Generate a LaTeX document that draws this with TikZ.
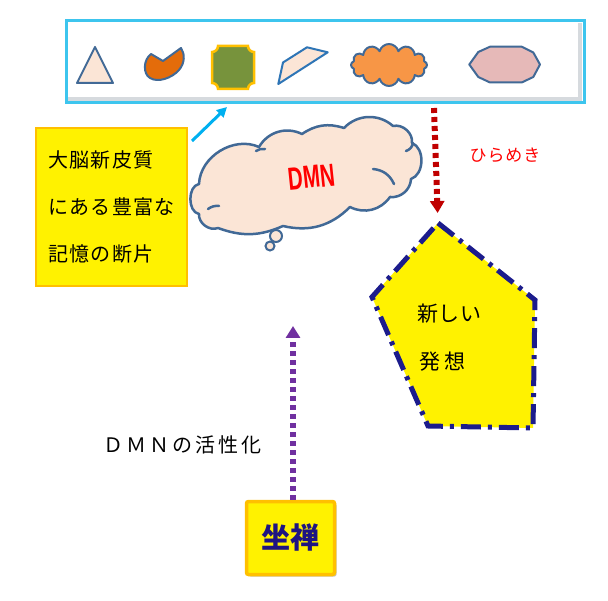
\documentclass[tikz,border=0pt]{standalone}
\usepackage{fontspec}
\usepackage{graphicx}
\usetikzlibrary{shapes.symbols,shapes.geometric,arrows.meta,shadows,calc}
\newfontfamily\jp{Noto Sans CJK JP}
\newfontfamily\lat{Liberation Sans}
\definecolor{barcyan}{RGB}{61,197,238}
\definecolor{bevel}{RGB}{214,218,222}
\definecolor{shapeblue}{RGB}{65,105,150}
\definecolor{linkblue}{RGB}{46,117,182}
\definecolor{peach}{RGB}{251,229,214}
\definecolor{pacorange}{RGB}{228,108,10}
\definecolor{plaquegreen}{RGB}{119,147,60}
\definecolor{gold}{RGB}{255,192,0}
\definecolor{cloudorange}{RGB}{247,150,70}
\definecolor{decapink}{RGB}{230,185,184}
\definecolor{arrowcyan}{RGB}{0,176,240}
\definecolor{darkred}{RGB}{192,0,0}
\definecolor{navy}{RGB}{28,28,140}
\definecolor{zenblue}{RGB}{30,20,130}
\definecolor{violet}{RGB}{112,48,160}
\begin{document}
\begin{tikzpicture}[x=1pt,y=-1pt,
  shp/.style={draw=shapeblue, line width=2pt, line join=round},
  cloudline/.style={draw=shapeblue, line width=2.5pt, line join=round, line cap=round},
  lbox/.style={draw=gold, line width=1.5pt, fill=yellow, inner sep=0pt},
  dotarrow/.style={line width=6pt, dash pattern=on 5pt off 4pt, -{Triangle[length=12pt,width=14pt]}},
  jptext/.style={inner sep=0pt}
]
\useasboundingbox (0,0) rectangle (608,601);
% top bar
\fill[bevel] (68,23) rectangle (582,101);
\fill[white] (68,23) rectangle (578,97);
\node[draw=barcyan, line width=3pt, minimum width=518pt, minimum height=82pt, inner sep=0pt] (bar) at (325,62) {};
% shapes in bar
\draw[shp, fill=peach] (77,83) -- (95,47) -- (113,83) -- cycle;
\draw[shp, fill=pacorange] (163,61) -- (151,54) .. controls (143,60) and (143,74) .. (150,78)
  .. controls (158,83) and (172,78) .. (179,70) .. controls (185,63) and (185,54) .. (181,48) -- cycle;
\draw[draw=gold, line width=2.5pt, fill=plaquegreen] (218,46) -- (248,46) arc[start angle=180,end angle=90,radius=6]
  -- (254,83) arc[start angle=270,end angle=180,radius=6]
  -- (218,89) arc[start angle=0,end angle=-90,radius=6]
  -- (212,52) arc[start angle=90,end angle=0,radius=6] -- cycle;
\draw[draw=linkblue, line width=2pt, line join=round, fill=peach] (283,62.5) -- (307,47.3) -- (327.7,52.3) -- (278.3,84) -- cycle;
\node[cloud, cloud puffs=12, aspect=1.8, shp, fill=cloudorange, minimum width=76pt, minimum height=42pt, inner sep=0pt] (smallcloud) at (389,65) {};
\draw[shp, fill=decapink] (469.3,64.5) -- (478.3,52) -- (490,46.7) -- (521.7,46.7) -- (533.3,52.5) -- (540,64.5)
  -- (533.3,77) -- (521.7,82.5) -- (490,82.5) -- (478.3,77) -- cycle;
% left box
\node[lbox, minimum width=151pt, minimum height=158pt, align=left,
  font=\jp\fontsize{20}{47}\selectfont\addfontfeature{LetterSpace=7}] (mem) at (111.5,207)
  {大脳新皮質\\にある豊富な\\記憶の断片};
\coordinate (ca1) at (192,141);
\coordinate (ca2) at (227,107);
\draw[arrowcyan, line width=3pt, -{Triangle[length=10pt,width=10pt]}] (ca1) -- (ca2);
% DMN cloud
\draw[cloudline, fill=peach] (199,184) to[bend left=56] (259,147) to[bend left=43] (302,134)
  to[bend left=26] (344,128) to[bend left=44] (393,126) to[bend left=55] (412,143)
  to[bend left=70] (411,179) to[bend left=47] (390,197) to[bend left=41] (350,207)
  to[bend left=29] (283,226) to[bend left=22] (218,228) to[bend left=58] (199,214)
  to[bend left=80] (199,184) -- cycle;
\draw[cloudline] (208,209) to[bend left=20] (219,206);
\draw[cloudline] (256,151) to[bend left=20] (265,149);
\draw[cloudline] (406,151) to[bend right=30] (413,143);
\draw[cloudline] (373,169) to[bend left=30] (394,184);
\node[circle, draw=shapeblue, line width=2pt, fill=peach, minimum size=12pt, inner sep=0pt] (bub1) at (276,236) {};
\node[circle, draw=shapeblue, line width=2pt, fill=peach, minimum size=9pt, inner sep=0pt] (bub2) at (270,246) {};
\node[jptext, text=red, rotate=6] (dmntext) at (312,177) {\scalebox{0.64}[1]{\lat\bfseries\fontsize{32}{32}\selectfont DMN}};
% red arrow
\coordinate (ra) at (434,108);
\coordinate (p1) at (438,223);
\coordinate (p2) at (535,300);
\coordinate (p3) at (533,428);
\coordinate (p4) at (428,426);
\coordinate (p5) at (372,297);
\draw[darkred, dotarrow, shorten >=10pt] (ra) -- (p1);
\node[jptext, text=red, font=\jp\fontsize{17}{17}\selectfont\addfontfeature{LetterSpace=5}] (hira) at (505,155) {ひらめき};
% pentagon
\draw[fill=yellow, draw=navy, line width=5pt, dash pattern=on 20pt off 7pt on 4pt off 7pt] (p1) -- (p2) -- (p3) -- (p4) -- (p5) -- cycle;
\node[jptext, anchor=west, font=\jp\fontsize{21}{21}\selectfont\addfontfeature{LetterSpace=2}] (new1) at (417,314) {新しい};
\node[jptext, anchor=west, font=\jp\fontsize{21}{21}\selectfont\addfontfeature{LetterSpace=20}] (new2) at (419,362) {発想};
% zazen
\node[draw=gold, line width=3.5pt, fill=yellow, rounded corners=2pt, minimum width=88pt, minimum height=73pt,
  drop shadow={shadow xshift=2pt, shadow yshift=-2pt, opacity=.45, fill=gray},
  text=zenblue, font=\jp\bfseries\fontsize{29}{29}\selectfont] (zazen) at (290.5,538) {坐禅};
\coordinate (pa) at (293,326);
\draw[violet, dotarrow] (zazen.north -| pa) -- (pa);
\node[jptext, anchor=west, font=\jp\fontsize{20}{20}\selectfont\addfontfeature{LetterSpace=15}] (act) at (103,445) {ＤＭＮの活性化};
\end{tikzpicture}
\end{document}
